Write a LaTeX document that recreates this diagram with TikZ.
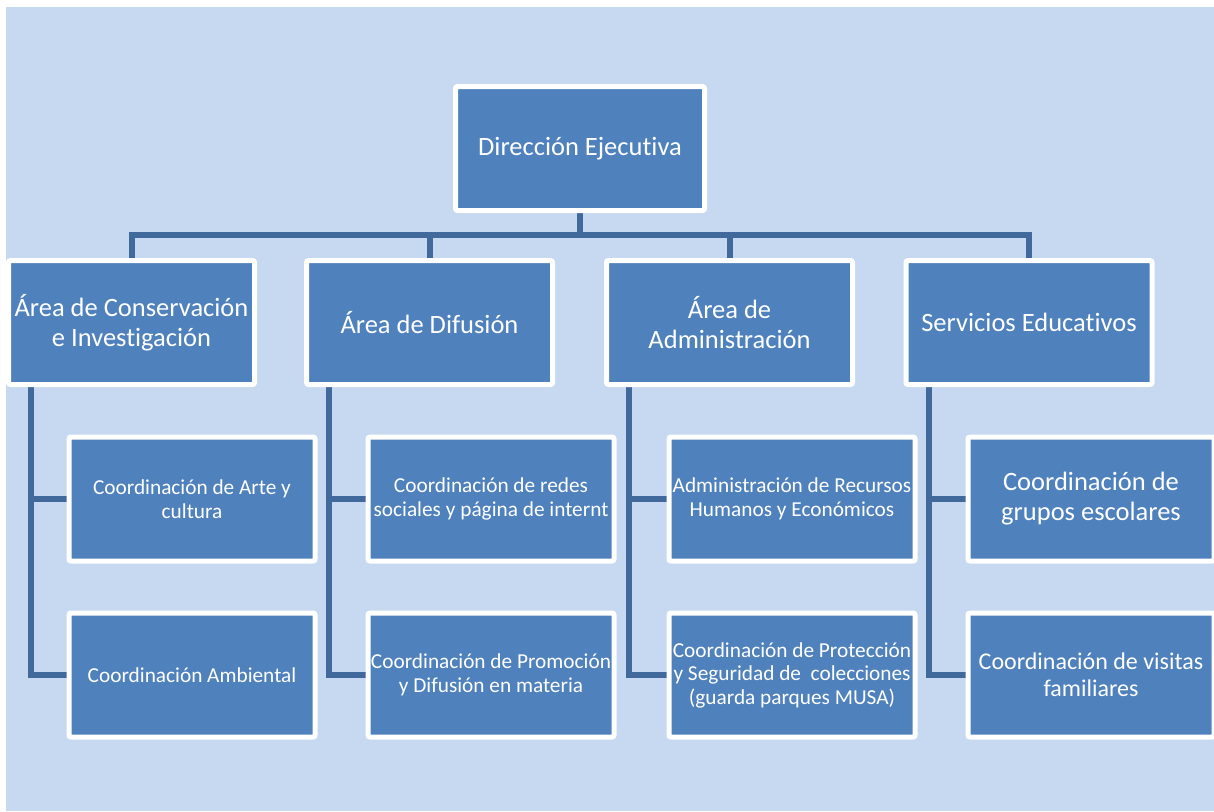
\documentclass[tikz,border=0pt]{standalone}
\usepackage{fontspec}
\setmainfont{Carlito}[Ligatures=NoCommon]
\usetikzlibrary{backgrounds}
\definecolor{boxblue}{HTML}{4F81BD}
\definecolor{bgblue}{HTML}{C6D9F0}
\definecolor{lineblue}{HTML}{41699C}
\tikzset{
  box/.style={draw=white, line width=5pt, fill=boxblue, text=white, align=center,
    minimum width=246pt, minimum height=124pt, inner sep=0pt, rounded corners=2pt},
  big/.style={font=\fontsize{26.5}{30}\selectfont},
  small/.style={font=\fontsize{21.3}{23.5}\selectfont},
  mid/.style={font=\fontsize{24}{27}\selectfont},
  conn/.style={draw=lineblue, line width=6pt, line join=miter}
}
\begin{document}
\begin{tikzpicture}[x=1pt,y=-1pt]
\useasboundingbox (0,0) rectangle (1214,811);
% top
\node[box,big,minimum width=249pt] (top) at (580,148.5) {Dirección Ejecutiva};
% level 2
\node[box,big] (a1) at (131.5,322.5) {Área de Conservación\\e Investigación};
\node[box,big] (a2) at (429.5,322.5) {Área de Difusión};
\node[box,big] (a3) at (729.5,322.5) {Área de\\Administración};
\node[box,big] (a4) at (1029,322.5) {Servicios Educativos};
% level 3
\node[box,small] (c11) at (192,499) {Coordinación de Arte y\\cultura};
\node[box,small] (c12) at (192,675) {Coordinación Ambiental};
\node[box,small] (c21) at (491,499) {Coordinación de redes\\sociales y página de internt};
\node[box,small] (c22) at (491,675) {Coordinación de Promoción\\y Difusión en materia};
\node[box,small] (c31) at (792,499) {Administración de Recursos\\Humanos y Económicos};
\node[box,small] (c32) at (792,675) {Coordinación de Protección\\y Seguridad de\ \ colecciones\\(guarda parques MUSA)};
\node[box,big] (c41) at (1091,499) {Coordinación de\\grupos escolares};
\node[box,mid] (c42) at (1091,675) {Coordinación de visitas\\familiares};
\coordinate (bus) at (580,235);
\begin{scope}[on background layer]
\fill[bgblue] (6,7) rectangle (1214,811);
\draw[conn] (top.south) -- (top.south |- bus);
\draw[conn] (a1.north) -- (a1.north |- bus) -- (a4.north |- bus) -- (a4.north);
\draw[conn] (a2.north) -- (a2.north |- bus);
\draw[conn] (a3.north) -- (a3.north |- bus);
\foreach \p in {1,2,3,4}{
  \draw[conn] ([xshift=25pt]a\p.south west) |- (c\p2.west);
  \draw[conn] ([xshift=25pt]a\p.south west |- c\p1.west) -- (c\p1.west);
}
\end{scope}
\end{tikzpicture}
\end{document}
